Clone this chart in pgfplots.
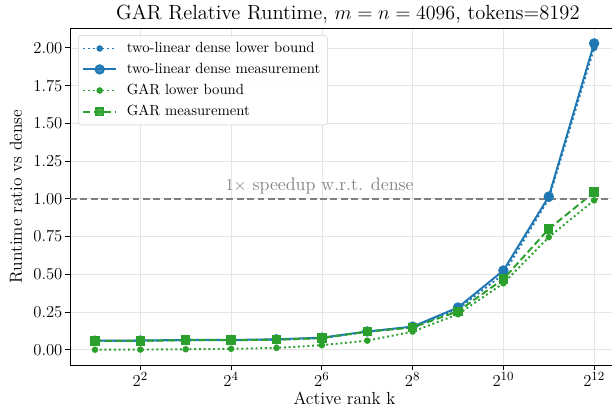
\documentclass[border=0pt]{standalone}
\usepackage{pgfplots}
\pgfplotsset{compat=1.18}
\definecolor{tabblue}{HTML}{1F77B4}
\definecolor{tabgreen}{HTML}{2CA02C}
\begin{document}
\begin{tikzpicture}
\begin{axis}[
  at={(0,0)}, anchor=south west,
  scale only axis,
  width=395.3pt, height=242.6pt,
  xmin=0.45, xmax=12.55,
  ymin=-0.1015, ymax=2.1315,
  xtick={2,4,6,8,10,12},
  xticklabels={$2^{2}$,$2^{4}$,$2^{6}$,$2^{8}$,$2^{10}$,$2^{12}$},
  ytick={0,0.25,0.5,0.75,1,1.25,1.5,1.75,2},
  yticklabel style={/pgf/number format/.cd,fixed,fixed zerofill,precision=2},
  xtick pos=bottom, ytick pos=left,
  grid=major,
  major grid style={gray!20, line width=0.5pt},
  tick style={black, line width=0.6pt},
  tick align=outside,
  major tick length=3.5pt,
  axis line style={line width=0.6pt},
  ticklabel style={font=\fontsize{13}{15}\selectfont, inner sep=1.8pt},
  title={GAR Relative Runtime, $m=n=4096$, tokens=8192},
  title style={font=\fontsize{14.8}{16}\selectfont, at={(axis description cs:0.506,1)}, anchor=base, yshift=0.3pt},
  xlabel={Active rank k},
  ylabel={Runtime ratio vs dense},
  label style={font=\fontsize{12.6}{14}\selectfont},
  xlabel style={at={(axis description cs:0.5,-0.098)}, anchor=center},
  ylabel style={at={(axis description cs:-0.0984,0.5)}, anchor=center},
  legend cell align=left,
  legend image code/.code={\draw[mark repeat=2,mark phase=2,#1] plot coordinates {(0cm,0cm) (0.41cm,0cm) (0.82cm,0cm)}; \path (1.0cm,0cm);},
  legend style={font=\fontsize{10.6}{12.7}\selectfont, draw=gray!35, rounded corners=2pt, fill=white, fill opacity=0.85, text opacity=1, row sep=2.2pt, inner sep=3pt, at={(0.0147,0.979)}, anchor=north west},
]
\addplot[tabblue, line width=1.4pt, dotted, mark=*, mark size=1.6pt, mark options={solid}]
  coordinates {(1,0.058)(2,0.059)(3,0.063)(4,0.063)(5,0.066)(6,0.077)(7,0.118)(8,0.15)(9,0.27)(10,0.50)(11,1.00)(12,2.00)};
\addlegendentry{two-linear dense lower bound}
\addplot[tabblue, line width=1.4pt, solid, mark=*, mark size=3pt]
  coordinates {(1,0.060)(2,0.061)(3,0.065)(4,0.065)(5,0.069)(6,0.080)(7,0.121)(8,0.153)(9,0.28)(10,0.525)(11,1.015)(12,2.03)};
\addlegendentry{two-linear dense measurement}
\addplot[tabgreen, line width=1.4pt, dotted, mark=*, mark size=1.6pt, mark options={solid}]
  coordinates {(1,0.0)(2,0.001)(3,0.003)(4,0.006)(5,0.012)(6,0.03)(7,0.06)(8,0.12)(9,0.235)(10,0.44)(11,0.746)(12,0.99)};
\addlegendentry{GAR lower bound}
\addplot[tabgreen, line width=1.4pt, dash pattern=on 5pt off 2.5pt, mark=square*, mark size=2.7pt, mark options={solid}]
  coordinates {(1,0.058)(2,0.059)(3,0.063)(4,0.063)(5,0.066)(6,0.077)(7,0.12)(8,0.147)(9,0.255)(10,0.468)(11,0.80)(12,1.044)};
\addlegendentry{GAR measurement}
\addplot[gray, line width=1.2pt, dash pattern=on 5pt off 2.5pt, forget plot] coordinates {(0.45,1)(12.55,1)};
\node[gray, font=\fontsize{13.1}{15}\selectfont, anchor=south] at (axis cs:5.95,1.0) {$1\times$ speedup w.r.t. dense};
\end{axis}
\pgfresetboundingbox
\useasboundingbox (-50.4pt,-32.4pt) rectangle (390.2pt,262.8pt);
\end{tikzpicture}
\end{document}
